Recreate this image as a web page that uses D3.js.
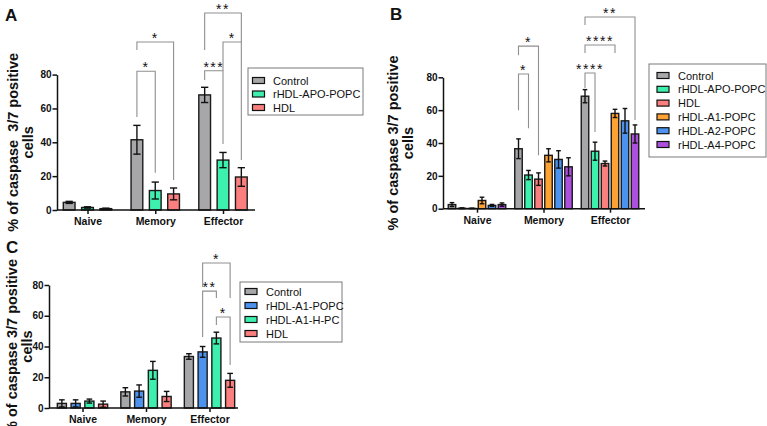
<!DOCTYPE html>
<html>
<head>
<meta charset="utf-8">
<script src="https://cdn.jsdelivr.net/npm/d3@7"></script>
<style>
  body { margin: 0; background: #fff; }
  text { font-family: "Liberation Sans", Arial, sans-serif; }
</style>
</head>
<body>
<svg id="chart" width="767" height="426"></svg>
<script>
// Data
const categories = ["Naive", "Memory", "Effector"];
const yTicks = [0, 20, 40, 60, 80];

// panel A
const seriesA = ["Control", "rHDL-APO-POPC", "HDL"];
const meansA = [[4.5, 41.5, 68], [1.5, 11.5, 29.5], [0.8, 9.5, 19.5]];
const errsA = [[0.6, 8.5, 4.5], [0.4, 5, 4.5], [0.3, 3.5, 5.5]];
// [category, from series, to series, label, level, left leg end, right leg end]
const bracketsA = [
  ["Memory", 0, 1, "*", 82, 55, 22],
  ["Memory", 0, 2, "*", 99.3, 94.5, 17.7],
  ["Effector", 0, 1, "***", 82.3, 76.8, 39],
  ["Effector", 1, 2, "*", 99.3, 82.3, 29.5],
  ["Effector", 0, 2, "**", 116.4, 94.5, 99.3]
];

// panel B
const seriesB = ["Control", "rHDL-APO-POPC", "HDL", "rHDL-A1-POPC", "rHDL-A2-POPC", "rHDL-A4-POPC"];
const meansB = [[2.5, 36.5, 68.5], [0.3, 20.5, 35], [0.2, 18, 27.5],
                [5, 32.5, 58], [2, 30, 53.5], [2.5, 25.5, 45.5]];
const errsB = [[1.2, 6, 4], [0.2, 2.8, 5.5], [0.1, 3.8, 1.5],
               [2, 4, 2.5], [0.6, 5.3, 7.5], [1, 5.5, 5.5]];
const bracketsB = [
  ["Memory", 0, 1, "*", 82, 60, 49],
  ["Memory", 0, 2, "*", 99, 93.5, 32.6],
  ["Effector", 0, 1, "****", 82.6, 73.5, 46.7],
  ["Effector", 0, 3, "****", 99.7, 94.8, 94.8],
  ["Effector", 0, 5, "**", 116.7, 111.8, 54]
];

// panel C
const seriesC = ["Control", "rHDL-A1-POPC", "rHDL-A1-H-PC", "HDL"];
const meansC = [[3, 10.5, 33.5], [3, 11, 36.5], [4.5, 24.5, 45.5], [2.5, 7.5, 18]];
const errsC = [[2.3, 2.7, 1.8], [2.3, 4, 3.5], [1.3, 5.8, 3.8], [2, 3.3, 4.5]];
const bracketsC = [
  ["Effector", 1, 2, "**", 76, 46.2, 71.5],
  ["Effector", 2, 3, "*", 59.2, 54, 28],
  ["Effector", 1, 3, "*", 94.3, 78.7, 71.5]
];

const colorOf = {
  "Control": "#a7a7aa",
  "rHDL-APO-POPC": "#3ef0ae",
  "HDL": "#fb7f7e",
  "rHDL-A1-POPC": "#ffa234",
  "rHDL-A2-POPC": "#4b93ef",
  "rHDL-A4-POPC": "#ad50de"
};
// in panel C the A1-POPC bars are blue
const colorC = {"Control": "#a7a7aa", "rHDL-A1-POPC": "#4b93ef", "rHDL-A1-H-PC": "#3ef0ae", "HDL": "#fb7f7e"};

const svg = d3.select("#chart");

function drawPanel(p) {
  const g = svg.append("g");

  const y = d3.scaleLinear().domain([0, 80]).range([p.y0, p.y80]);
  const x = d3.scalePoint().domain(categories).range([p.c0, p.c1]);
  const inner = d3.scaleBand().domain(p.series).range([-p.gw / 2, p.gw / 2]).paddingInner(p.pad).paddingOuter(p.pad / 2);
  const bw = inner.bandwidth();
  const color = p.colors;

  // bars
  p.series.forEach((s, si) => {
    const rows = categories.map((c, ci) => ({c: c, v: p.means[si][ci], e: p.errs[si][ci]}));
    const bg = g.append("g");
    bg.selectAll("rect").data(rows).join("rect")
      .attr("x", d => x(d.c) + inner(s))
      .attr("y", d => y(d.v))
      .attr("width", bw)
      .attr("height", d => y(0) - y(d.v))
      .style("fill", color[s])
      .style("stroke", "#1a1a1a")
      .style("stroke-width", 1.4);

    const cap = bw * 0.62;
    rows.forEach(d => {
      const cx = x(d.c) + inner(s) + bw / 2;
      const lo = Math.max(0, d.v - d.e), hi = d.v + d.e;
      bg.append("line").attr("x1", cx).attr("x2", cx).attr("y1", y(lo)).attr("y2", y(hi));
      bg.append("line").attr("x1", cx - cap / 2).attr("x2", cx + cap / 2).attr("y1", y(hi)).attr("y2", y(hi));
      bg.append("line").attr("x1", cx - cap / 2).attr("x2", cx + cap / 2).attr("y1", y(lo)).attr("y2", y(lo));
    });
    bg.selectAll("line").style("stroke", "#111").style("stroke-width", 1.4);
  });

  // axes
  const yaxis = d3.axisLeft(y).tickValues(yTicks).tickSize(4.5).tickSizeOuter(0).tickPadding(1);
  const ya = g.append("g").attr("transform", `translate(${p.x0},0)`).call(yaxis);
  ya.selectAll("text").style("font-size", "10px").style("font-weight", "bold").style("fill", "#111");
  ya.selectAll("path, line").style("stroke", "#111").style("stroke-width", 1.5);

  g.append("line").attr("x1", p.x0).attr("x2", p.x1).attr("y1", p.y0).attr("y2", p.y0)
    .style("stroke", "#111").style("stroke-width", 1.5);
  const xa = g.append("g").attr("transform", `translate(0,${p.y0})`)
    .call(d3.axisBottom(x).tickSize(4).tickSizeOuter(0).tickPadding(4));
  xa.select(".domain").remove();
  xa.selectAll("line").style("stroke", "#111").style("stroke-width", 1.5);
  xa.selectAll("text").style("font-size", "10.5px").style("font-weight", "bold").style("fill", "#111");

  // significance brackets
  const barX = (c, si) => x(c) + inner(p.series[si]) + bw / 2;
  p.brackets.forEach(b => {
    const xl = barX(b[0], b[1]), xr = barX(b[0], b[2]), ly = y(b[4]);
    g.append("path")
      .attr("d", `M${xl},${y(b[5])}V${ly}H${xr}V${y(b[6])}`)
      .style("fill", "none").style("stroke", "#8f8f8f").style("stroke-width", 1.1);
    g.append("text")
      .attr("x", (xl + xr) / 2).attr("y", ly + 1)
      .attr("text-anchor", "middle")
      .style("font-size", "14px").style("letter-spacing", "1.5px")
      .style("fill", "#111")
      .text(b[3]);
  });

  // y title
  const cy = (p.y0 + p.y80) / 2;
  const t = g.append("text")
    .attr("transform", `translate(${p.tx},${cy}) rotate(-90)`)
    .attr("text-anchor", "middle")
    .style("font-size", "14.5px").style("font-weight", "bold").style("fill", "#111");
  t.append("tspan").attr("x", 0).attr("y", 0).style("white-space", "pre").text(p.title);
  t.append("tspan").attr("x", 0).attr("y", 15).text("cells");

  // panel letter
  g.append("text").attr("x", p.lx).attr("y", p.ly)
    .style("font-size", "17px").style("font-weight", "bold").style("fill", "#111").text(p.letter);

  // legend
  const L = p.legend;
  g.append("rect").attr("x", L.x).attr("y", L.y).attr("width", L.w).attr("height", L.h)
    .style("fill", "#fff").style("stroke", "#7a7a7a").style("stroke-width", 1);
  const rows = g.selectAll(".leg").data(p.series).join("g")
    .attr("transform", (d, i) => `translate(${L.x + L.sx},${L.r0 + i * L.rh})`);
  rows.append("rect").attr("x", 0).attr("y", -3).attr("width", 12).attr("height", 6)
    .style("fill", d => color[d]).style("stroke", "#111").style("stroke-width", 1.2);
  rows.append("text").attr("x", L.tx).attr("y", 4)
    .style("font-size", "11px").style("fill", "#111").text(d => d);
}

drawPanel({
  letter: "A", lx: 5, ly: 21,
  series: seriesA, means: meansA, errs: errsA, brackets: bracketsA, colors: colorOf,
  x0: 57, x1: 255, y0: 210, y80: 74.6, c0: 87.5, c1: 223, gw: 55, pad: 0.36,
  tx: 18, title: "% of caspase  3/7 positive",
  legend: {x: 248, y: 68, w: 115, h: 47, r0: 80.5, rh: 13.5, sx: 4.5, tx: 20.5}
});

drawPanel({
  letter: "B", lx: 390, ly: 20,
  series: seriesB, means: meansB, errs: errsB, brackets: bracketsB, colors: colorOf,
  x0: 443, x1: 645, y0: 208.7, y80: 77.3, c0: 477, c1: 610, gw: 60, pad: 0.25,
  tx: 398, title: "% of caspase 3/7 positive",
  legend: {x: 649, y: 64, w: 117, h: 93, r0: 75.5, rh: 13.8, sx: 8, tx: 21}
});

drawPanel({
  letter: "C", lx: 6, ly: 253,
  series: seriesC, means: meansC, errs: errsC, brackets: bracketsC, colors: colorC,
  x0: 49, x1: 238, y0: 408, y80: 285, c0: 82.5, c1: 209.5, gw: 55, pad: 0.34,
  tx: 17, title: "% of caspase 3/7 positive",
  legend: {x: 240, y: 282, w: 102, h: 60, r0: 291.5, rh: 14, sx: 5, tx: 21}
});
</script>
</body>
</html>
